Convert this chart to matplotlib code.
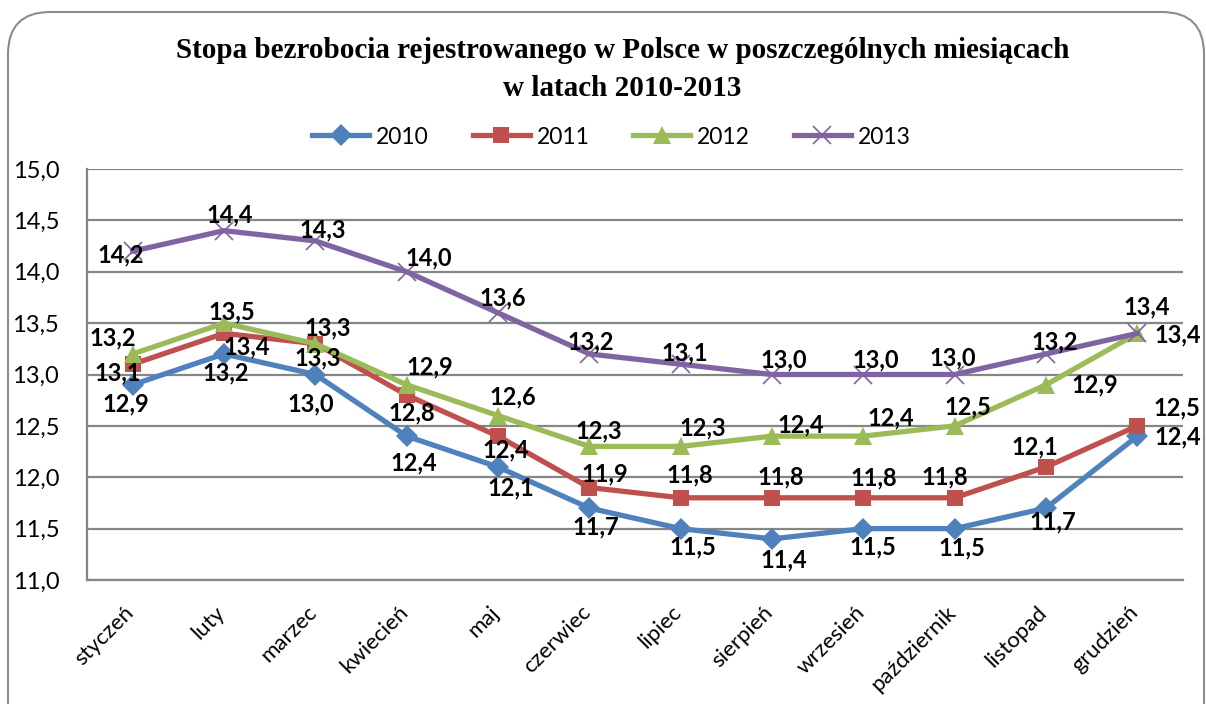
import matplotlib
matplotlib.use("Agg")
import matplotlib.pyplot as plt
import matplotlib.transforms as mtransforms
from matplotlib.patches import FancyBboxPatch
from matplotlib.ticker import FuncFormatter, MultipleLocator

months = ["styczeń", "luty", "marzec", "kwiecień", "maj", "czerwiec", "lipiec",
          "sierpień", "wrzesień", "październik", "listopad", "grudzień"]
years = ["2010", "2011", "2012", "2013"]
rate_2010 = [12.9, 13.2, 13.0, 12.4, 12.1, 11.7, 11.5, 11.4, 11.5, 11.5, 11.7, 12.4]
rate_2011 = [13.1, 13.4, 13.3, 12.8, 12.4, 11.9, 11.8, 11.8, 11.8, 11.8, 12.1, 12.5]
rate_2012 = [13.2, 13.5, 13.3, 12.9, 12.6, 12.3, 12.3, 12.4, 12.4, 12.5, 12.9, 13.4]
rate_2013 = [14.2, 14.4, 14.3, 14.0, 13.6, 13.2, 13.1, 13.0, 13.0, 13.0, 13.2, 13.4]
series = [rate_2010, rate_2011, rate_2012, rate_2013]

colors = ["#4F81BD", "#C0504D", "#9BBB59", "#8064A2"]
markers = ["D", "s", "^", "x"]
msizes = [11, 12, 13, 13]

# label offsets in pixels (dx right, dy up) relative to each point
label_offsets = [
    [(-7, -19), (2, -19), (-5, -29), (7, -27), (13, -21), (6, -19), (12, -18),
     (12, -21), (10, -18), (7, -19), (7, -14), (40, -1)],
    [(-15, -9), (23, -14), (2, -14), (5, -18), (8, -14), (16, 14), (9, 23),
     (9, 21), (10, 20), (-10, 21), (-11, 20), (40, 18)],
    [(-20, 16), (8, 11), (12, 16), (23, 18), (15, 19), (9, 16), (22, 19),
     (29, 11), (27, 18), (13, 19), (49, 0), (40, -2)],
    [(-12, -4), (6, 16), (7, 11), (22, 14), (5, 15), (1, 12), (4, 11),
     (12, 15), (12, 15), (-2, 17), (9, 12), (9, 26)],
]

plt.rcParams["font.family"] = ["Lato", "DejaVu Sans"]

W, H = 1206, 704
fig = plt.figure(figsize=(W / 100, H / 100), dpi=100)
ax = fig.add_axes([87 / W, 1 - 580 / H, (1183 - 87) / W, (580 - 169) / H])

# outer rounded frame (cut off at right and bottom like the source)
frame = FancyBboxPatch((8 / W, -0.2), (1204 - 8) / W, 0.2 + 1 - 12 / H,
                       boxstyle="round,pad=0,rounding_size=0.035",
                       transform=fig.transFigure, fill=False,
                       edgecolor="#8C8C8C", linewidth=1.5,
                       mutation_aspect=W / H, clip_on=False)
fig.add_artist(frame)

x = list(range(len(months)))
for vals, year, col, mk, ms, offs in zip(series, years, colors, markers, msizes, label_offsets):
    kw = dict(markeredgewidth=1.2) if mk == "x" else dict(markeredgewidth=0)
    ax.plot(x, vals, color=col, linewidth=3.8, marker=mk, markersize=ms,
            markerfacecolor=col, markeredgecolor=col, label=year, zorder=3, **kw)
    for xi, v, (dx, dy) in zip(x, vals, offs):
        ax.annotate(f"{v:.1f}".replace(".", ","), (xi, v), xytext=(dx, dy),
                    textcoords="offset pixels", ha="center", va="center",
                    fontsize=17, fontweight="bold", color="black",
                    zorder=5, annotation_clip=False)

ax.set_xlim(-0.5, len(months) - 0.5)
ax.set_ylim(11.0, 15.0)
ax.yaxis.set_major_locator(MultipleLocator(0.5))
ax.yaxis.set_major_formatter(FuncFormatter(lambda v, p: f"{v:.1f}".replace(".", ",")))
ax.grid(axis="y", color="#868686", linewidth=1.6)
ax.set_axisbelow(True)
for side in ["top", "right"]:
    ax.spines[side].set_visible(False)
for side in ["left", "bottom"]:
    ax.spines[side].set_color("#868686")
    ax.spines[side].set_linewidth(1.6)

ax.set_xticks(x)
ax.set_xticklabels(months, rotation=45, ha="right", va="center", rotation_mode="anchor")
ax.tick_params(axis="x", length=0, pad=21, labelsize=16)
ax.tick_params(axis="y", length=0, pad=20, labelsize=17)
shift = mtransforms.ScaledTranslation(-2 / 100, 0, fig.dpi_scale_trans)
for lab in ax.get_xticklabels():
    lab.set_transform(lab.get_transform() + shift)

fig.text(0.516, 1 - 51 / H, "Stopa bezrobocia rejestrowanego w Polsce w poszczególnych miesiącach",
         ha="center", va="center", fontsize=21, fontweight="bold", family="Liberation Serif")
fig.text(0.516, 1 - 88 / H, "w latach 2010-2013",
         ha="center", va="center", fontsize=21, fontweight="bold", family="Liberation Serif")

fig.legend(loc="center", bbox_to_anchor=(0.507, 1 - 137 / H), ncol=4, frameon=False,
           fontsize=16.5, handlelength=2.5, handletextpad=0.3, columnspacing=1.9,
           markerscale=1.0)

fig.savefig("out.png", dpi=100)
